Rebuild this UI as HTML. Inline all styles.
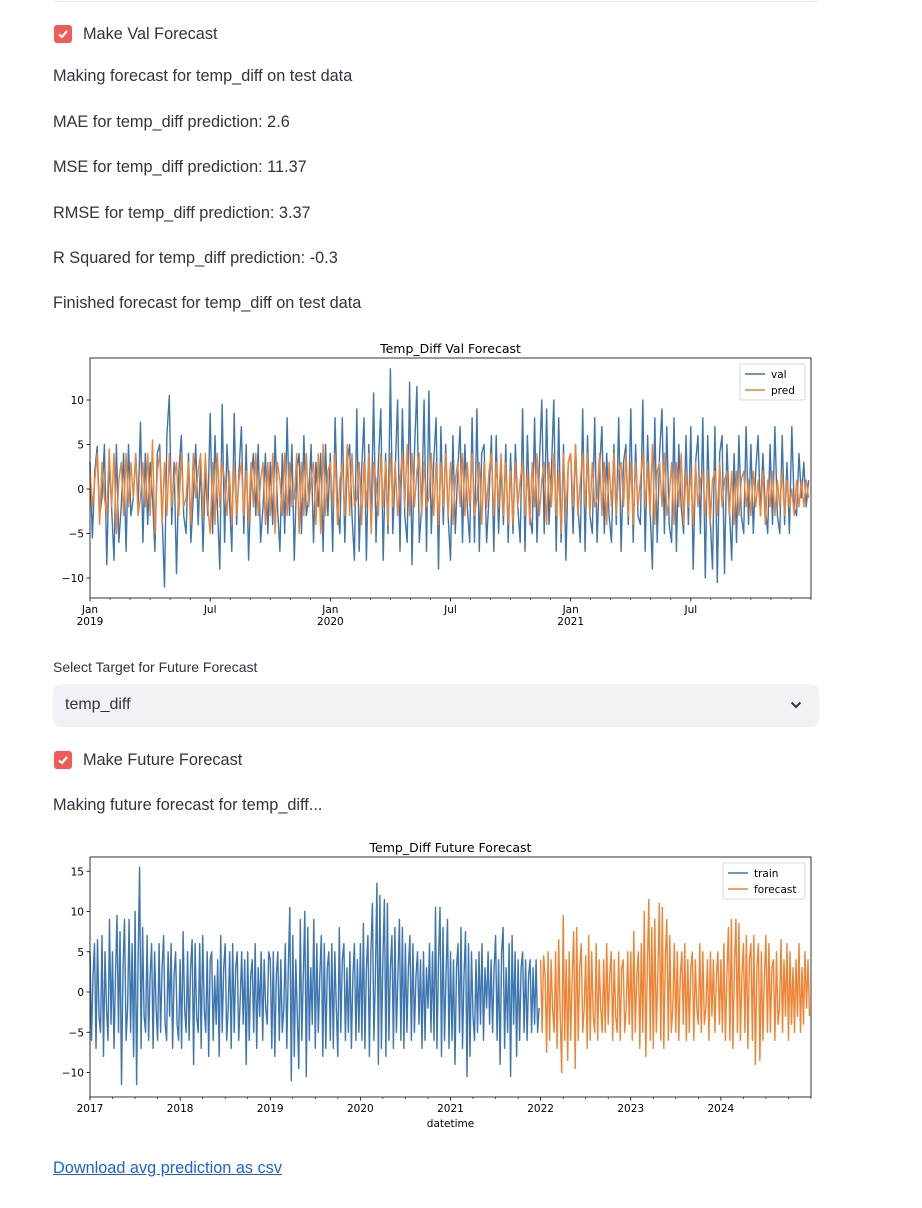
<!DOCTYPE html>
<html><head><meta charset="utf-8">
<style>
body{margin:0;width:922px;height:1208px;background:#fff;font-family:"Liberation Sans","DejaVu Sans",sans-serif;color:#31333f;position:relative;overflow:hidden}
.abs{position:absolute}
.p{position:absolute;left:53px;font-size:16.3px;line-height:20px}
.cb{position:absolute;left:54px;width:18px;height:18px;background:#ef5b58;border-radius:3px}
.cb svg{position:absolute;left:3px;top:3px}
.topbox{position:absolute;left:53px;top:-10px;width:764px;height:10px;border:1px solid #e6e8ee;border-radius:8px}
svg text{font-family:"DejaVu Sans",sans-serif}
</style></head><body>
<div class="topbox"></div>
<div class="cb" style="top:25px"><svg width="12" height="12" viewBox="0 0 12 12"><path d="M2 6.5 L5 9 L10 3" stroke="#fff" stroke-width="2.2" fill="none"/></svg></div>
<div class="p" style="left:83px;top:24px">Make Val Forecast</div>
<div class="p" style="top:66px">Making forecast for temp_diff on test data</div>
<div class="p" style="top:112px">MAE for temp_diff prediction: 2.6</div>
<div class="p" style="top:157px">MSE for temp_diff prediction: 11.37</div>
<div class="p" style="top:203px">RMSE for temp_diff prediction: 3.37</div>
<div class="p" style="top:248px">R Squared for temp_diff prediction: -0.3</div>
<div class="p" style="top:293px">Finished forecast for temp_diff on test data</div>

<svg id="c1" class="abs" style="left:0;top:330px" width="922" height="310"></svg>

<div class="p" style="top:657px;font-size:14px">Select Target for Future Forecast</div>
<div class="abs" style="left:53px;top:684px;width:766px;height:43px;background:#f0f2f6;border-radius:8px">
<span class="abs" style="left:12px;top:12px;font-size:16px">temp_diff</span>
<svg class="abs" style="left:737px;top:16px" width="12" height="10"><path d="M1.5 2.5 L6 7 L10.5 2.5" stroke="#31333f" stroke-width="2" fill="none"/></svg>
</div>
<div class="cb" style="top:751px"><svg width="12" height="12" viewBox="0 0 12 12"><path d="M2 6.5 L5 9 L10 3" stroke="#fff" stroke-width="2.2" fill="none"/></svg></div>
<div class="p" style="left:83px;top:750px">Make Future Forecast</div>
<div class="p" style="top:795px">Making future forecast for temp_diff...</div>

<svg id="c2" class="abs" style="left:0;top:830px" width="922" height="310"></svg>

<a class="p" style="top:1158px;color:#1c62d6;text-decoration:underline">Download avg prediction as csv</a>

<script>
const valSeries=[
3,-5.5,2,4.8,-3,-1,5,-8.5,3.5,-2,-8,5,-6,-2,4,-7,5,-3,-1,4,-2,7.5,-6,4,-4,
3,-1,-7,4,5,-3,-11,6,10.5,-4,3,-9.5,2,6,-3,-5,4,-6,-1,5,-4,3,-7,2,-3,
8.5,-5,6,-2,-9,9.5,-6,5,-1,-7,8.5,-4,2,7,-5,5,-8,1,4,-3,5,-6,-2,4,-5,
3,-4,6,-2,-7,4,-5,8,-3,5,-8,2,4,-5,6,-3,-1,5,-6,3,-2,4,-7,5,-3,
4,-7,8,-2,-5,8,-6,3,5,-3,-8,9,-7,2,8,-8,5,-4,10.8,-6,3,9,-8,4,-5,
13.5,-5,2,10,-7,9,-3,-6,12,-8.5,4,11.5,-6,-2,10,-7,11,-5,3,8,-9,7,-4,5,-3,
-8,6,-5,2,7,-6,5,-2,-6,8,-6,9,-7,4,5,-6,-1,6,-7,6,-5,3,-4,5,-6,
4,-5,5,-2,-6,9,-7,6,-3,-5,8,-6,3,10,-5,9,-4,2,10,-7,8,-6,5,-8,3,
4,-5,5,-2,-6,9,-7,6,-3,-5,8,-6,2,7,-5,4,-3,-6,5,-4,8,-7,3,5,-4,
9,-6,5,-3,-4,10,-7,6,-2,-9,8,-6,4,9,-5,7,-4,-6,8,-7,5,-2,-5,6,-4,
7,-9,3,6,-5,8,-10,6,-3,-9,7,-10.5,4,6,-9.5,5,-2,-8,4,-6,6,-3,-5,7,-4,
5,-5,2,6,-3,4,-2,-5,5,-4,7,-3,-5,6,-4,3,-5,7,-2,-3,4,-1,3,-2,1];
const predSeries=[
2,-2,1,4,-4,3,-1,-3,4.5,-2,4,-5,1,3,-3,4,-2,3,-1,4,-3,-1,3,-2,4,
-3,5.5,-5,2,4,-4,3,-3,4,-2,1,3,-3,4,-2,-1,3,-4,4,-1,2,4,-3,4,-2,
-5,3,-4,4,-2,3,1,-3,2,-4,3,-3,1,3,-3,2,-4,3,-2,4,-3,1,3,-4,3,
-3,4,-5,3,1,-3,4,-3,3,-2,-1,4,-5,3,-3,4,-2,1,3,-4,4,-5,5,-3,2,
3,-2,4,-4,1,3,-3,5,-3,4,-2,-1,3,-4,3,-2,4,-5,3,1,-3,4,-2,3,-4,
4,-2,3,-3,1,4,-2,5,-3,4,-2,2,4,-3,3,-2,-1,4,-3,3,-4,3,-2,4,-3,
3,-4,1,3,-2,4,-3,3,-2,4,-3,-1,3,-4,3,-2,2,4,-3,3,-2,4,-3,3,-4,
2,-4,3,-2,1,3,-3,2,-4,3,-2,4,-3,1,3,-4,3,-2,4,-3,2,-5,4,-3,3,
4,-2,5,-3,1,4,-2,4,-3,3,-2,-1,4,-3,3,-4,3,-2,4,-3,2,3,-2,4,-3,
3,-4,3,-2,1,4,-2,3,-3,5,-4,2,3,-2,4,-3,-1,3,-4,3,-2,4,-4,2,-2,
2,-4,3,-2,1,2,-3,2,-4,1,2,-3,3,-2,1,2,-3,2,-4,2,-3,1,2,-2,1,
-3,2,-2,1,-3,2,-4,1,-2,2,-3,1,-2,2,-3,1,-2,0,-3,1,-2,1,-2,1,-1];
const c1YTicks=[-10,-5,0,5,10];
const c1XLabels=[["Jan","2019"],["Jul",""],["Jan","2020"],["Jul",""],["Jan","2021"],["Jul",""]];

const trainSeries=[
5,-6,2,6,-7,6.5,-3,-5,7,-8,5,-2,-6,9,-4,5,-7,2,9.5,-5,7.5,-11.5,3,9,-6,-2,9,-5,6,-8,
10,-11.5,4,15.5,-7,8,-3,-5,7,-6,2,6,-7,5,-2,-6,6,-5,3,7,-4,-6,5,-3,6,-7,2,5,-4,-6,
4,-7,7.5,-2,-5,5,-6,3,6.5,-9,6,-3,-5,6,-7,7,-2,-5,5,-8,4,5,-6,2,-4,4,-8,7,-5,3,
6,-6,-2,5,-7,6,-5,3,5,-6,-1,5,-4,4,-9,5,-6,2,4,-5,6,-7,3,-3,5,-6,4,-2,-4,5,
4,-7,5,-8,2,5,-6,4,-5,-2,6,-7,3,10.5,-11,7,-8,4,-3,-9.5,9,-6,2,10,-10.5,8,-6,3,-4,9,
-7,6,-5,2,7,-8,6,-7,3,5,-6,6,-7,5,-2,-8,8,-5,4,6,-6,3,-5,5,-7,2,6,-6,4,-5,
6,-6,8.5,-7,3,7,-8,5,11,-6,2,13.5,-9,12,-7,4,11.5,-8,11,-6,3,7,-7,8,-5,2,9,-6,8,-7,
6,-5,3,7,-6,6,-5,2,5,-4,4,-7,5,-6,3,-2,6,-5,5,-6,10.5,-7,4,10.5,-8,8,-6,2,9,-7,
5,-6,4,-9,3,6,-5,8,-7,2,7.5,-10.5,6,-8,5,-3,-6,4,-5,5,-4,6,-6,3,-2,5,-4,4,-5,3,
7,-6,4,-9,5,8,-7,3,-5,6,-10.5,7,-4,5,-8,4,-6,3,5,-5,4,-6,2,4,-5,3,-4,4,-5,-2];
const forecastSeries=[
4,-5,4.5,2,-7.5,5,-6,4,-2,-5,5,-7,6.5,-3,-10,9.5,-6,4,-8.5,5,-6,2,7.5,-9.5,8,-6,3,6,-5,-2,
4.5,-7,7,-6,5,-3,-5,6,-6,4,-2,-5,4,-5,6,-4,2,5,-6,4,-3,-5,5,-6,3,4,-5,-2,5,-4,
5,-6,7.5,-5,2,5,-7,6,-5,10,-8,3,11.5,-6,8,-7,9,-5,2,11,-6,10.5,-7,4,9,-6,7,-5,-2,6,
-5,5,-6,2,5,-4,6,-6,4,-5,3,5,-6,4,-2,-4,6,-5,5,-4,-2,4,-6,5,-3,4,-5,2,5,-4,
4,-5,6,-6,2,8,-6,9,-7,3,9,-5,8.5,-6,2,6,-5,7,-7,4,6,-6,7,-9,3,6,-8.5,5,-6,2,
7,-5,6,-5,3,4,-6,5,-4,-2,6.5,-5,4,-3,6,-6,5,-4,3,-5,4,-3,6,-5,3,-4,5,-2,4,-3];
const c2YTicks=[-10,-5,0,5,10,15];
const c2XLabels=["2017","2018","2019","2020","2021","2022","2023","2024"];

const NS="http://www.w3.org/2000/svg";
function mk(parent,tag,attrs){const e=document.createElementNS(NS,tag);for(const k in attrs)e.setAttribute(k,attrs[k]);parent.appendChild(e);return e;}
const BLUE="#3c75af",ORANGE="#ee8434";

function chart(svg,o){
  const L=90,R=811,T=o.top,B=o.top+240;
  const xs=v=>L+(v-o.x0)/(o.x1-o.x0)*(R-L);
  const ys=v=>o.y0px+(v)*(-o.ppu);
  const t=mk(svg,"text",{x:(L+R)/2,y:T-5,"text-anchor":"middle","font-size":"12.5",fill:"#000"});
  t.textContent=o.title;
  
  
  o.series.forEach(s=>{
    const pts=s.data.map((v,i)=>xs(s.start+i*s.step).toFixed(1)+","+ys(v).toFixed(1)).join(" ");
    const pl=mk(svg,"polyline",{points:pts,fill:"none",stroke:s.color,"stroke-width":"1.4","stroke-linejoin":"round"});
    
    
  });
  const frame=mk(svg,"rect",{x:L,y:T,width:R-L,height:B-T,fill:"none",stroke:"#000","stroke-width":"0.8"});
  
  
  o.yTicks.forEach(v=>{
    const y=ys(v);
    mk(svg,"line",{x1:L-3.5,x2:L,y1:y,y2:y,stroke:"#000","stroke-width":"0.8"});
    const tx=mk(svg,"text",{x:L-6,y:y+4,"text-anchor":"end","font-size":"10.5",fill:"#000"});
    tx.textContent=(v<0?"\u2212"+(-v):v);
    
    
  });
  o.minor.forEach(v=>{const x=xs(v);mk(svg,"line",{x1:x,x2:x,y1:B,y2:B+2,stroke:"#000","stroke-width":"0.6"});});
  o.major.forEach((v,i)=>{
    const x=xs(v);mk(svg,"line",{x1:x,x2:x,y1:B,y2:B+3.5,stroke:"#000","stroke-width":"0.8"});
    const lab=o.xLabels[i];const lines=Array.isArray(lab)?lab:[lab];
    lines.forEach((ln,j)=>{if(!ln)return;
      const tx=mk(svg,"text",{x:x,y:B+15+j*12,"text-anchor":"middle","font-size":"10.5",fill:"#000"});
      tx.textContent=ln;
      
      
    });
  });
  if(o.xTitle){const tx=mk(svg,"text",{x:(L+R)/2,y:B+30,"text-anchor":"middle","font-size":"10.5",fill:"#000"});tx.textContent=o.xTitle;
    
    }
  const lg=o.legend;
  const box=mk(svg,"rect",{x:lg.x,y:lg.y,width:lg.w,height:36,rx:2,fill:"#fff",stroke:"#ccc","stroke-width":"0.8"});
  
  
  o.series.forEach((s,i)=>{
    const y=lg.y+10+i*16;
    mk(svg,"line",{x1:lg.x+5,x2:lg.x+25,y1:y,y2:y,stroke:s.color,"stroke-width":"1.5"});
    const tx=mk(svg,"text",{x:lg.x+31,y:y+4,"font-size":"10.5",fill:"#000"});
    tx.textContent=s.name;
    
    
  });
}
const m1=[],M1=[];for(let k=0;k<=36;k++){ if(k%6===0&&k<36)M1.push(2019+k/12); else m1.push(2019+k/12);}
chart(document.getElementById("c1"),{top:28,title:"Temp_Diff Val Forecast",x0:2019,x1:2022,y0px:159,ppu:8.9,
 yTicks:c1YTicks,xLabels:c1XLabels,major:M1,minor:m1,
 series:[{name:"val",data:valSeries,start:2019,step:1/100,color:BLUE},{name:"pred",data:predSeries,start:2019,step:1/100,color:ORANGE}],
 legend:{x:740,y:34,w:65}});
const m2=[],M2=[];for(let k=0;k<=32;k++){ if(k%4===0&&k<32)M2.push(2017+k/4); else m2.push(2017+k/4);}
chart(document.getElementById("c2"),{top:27,title:"Temp_Diff Future Forecast",x0:2017,x1:2025,y0px:162,ppu:8.05,
 yTicks:c2YTicks,xLabels:c2XLabels,major:M2,minor:m2,xTitle:"datetime",
 series:[{name:"train",data:trainSeries,start:2017,step:1/60,color:BLUE},{name:"forecast",data:forecastSeries,start:2022,step:1/60,color:ORANGE}],
 legend:{x:723,y:33,w:82}});
</script>
</body></html>
